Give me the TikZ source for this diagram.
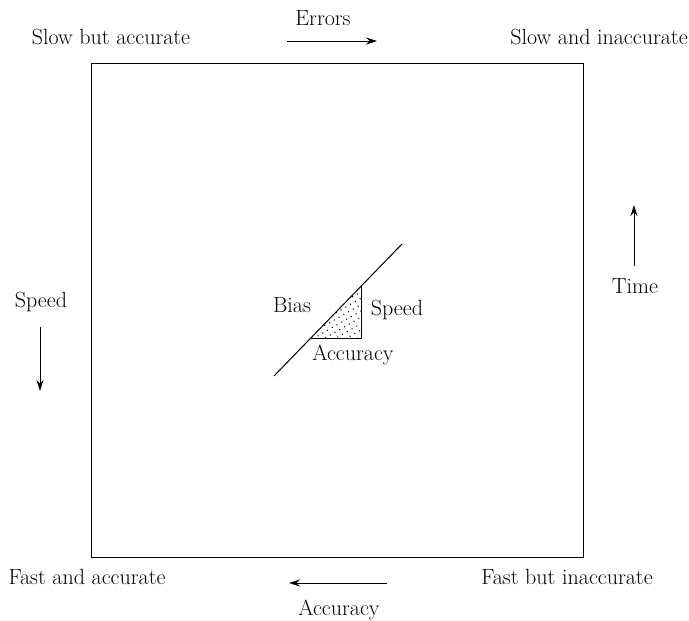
\documentclass[tikz,border=0pt]{standalone}
\usetikzlibrary{arrows.meta,patterns.meta}
\begin{document}
\begin{tikzpicture}[x=1pt,y=-1pt,
  lbl/.style={inner sep=0pt, anchor=base, font=\fontsize{22}{26}\selectfont},
  axisarrow/.style={draw, line width=0.9pt, -{Stealth[length=11pt,width=7pt]}},
  thin line/.style={line width=1pt}]
\useasboundingbox (0,0) rectangle (689,621);
% outer frame
\node[draw, thin line, minimum width=492pt, minimum height=494pt, inner sep=0pt] (frame) at (337,310) {};
% corner labels
\node[lbl] (sba) at (111,45) {Slow but accurate};
\node[lbl] (sai) at (599,45) {Slow and inaccurate};
\node[lbl] (faa) at (87,584) {Fast and accurate};
\node[lbl] (fbi) at (567,584) {Fast but inaccurate};
% direction arrows
\node[lbl] (errors) at (323,25) {Errors};
\coordinate (e0) at (287,41); \coordinate (e1) at (377,41);
\draw[axisarrow] (e0) -- (e1);
\node[lbl] (speedL) at (41,307) {Speed};
\coordinate (s0) at (40,327); \coordinate (s1) at (40,391);
\draw[axisarrow] (s0) -- (s1);
\node[lbl] (time) at (635,293) {Time};
\coordinate (t0) at (634,266); \coordinate (t1) at (634,205);
\draw[axisarrow] (t0) -- (t1);
\node[lbl] (accB) at (339,615) {Accuracy};
\coordinate (a0) at (387,583); \coordinate (a1) at (289,583);
\draw[axisarrow] (a0) -- (a1);
% central bias line and dotted triangle
\coordinate (l0) at (274,376); \coordinate (l1) at (402,244);
\coordinate (ta) at (311,338); \coordinate (tb) at (361,338); \coordinate (tc) at (361,286);
\fill[pattern={Dots[radius=0.75pt,distance=5.5pt,angle=30]}] (ta) -- (tb) -- (tc) -- cycle;
\draw[thin line] (ta) -- (tb) -- (tc);
\draw[thin line] (l0) -- (l1);
\node[lbl] (bias) at (292,312) {Bias};
\node[lbl] (speedC) at (397,315) {Speed};
\node[lbl] (accC) at (353,360) {Accuracy};
\end{tikzpicture}
\end{document}
